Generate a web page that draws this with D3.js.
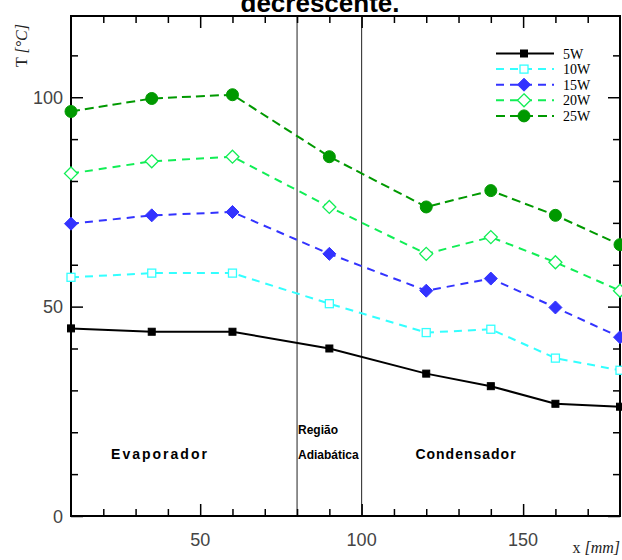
<!DOCTYPE html>
<html>
<head>
<meta charset="utf-8">
<script src="https://cdn.jsdelivr.net/npm/d3@7"></script>
<style>
  body { margin: 0; background: #fff; }
  svg { display: block; }
</style>
</head>
<body>
<div id="chart"></div>
<script>
// positions along the heat pipe [mm]
var xPos = [10, 35, 60, 90, 120, 140, 160, 180];

// temperatures [°C] for each power level
var t5W  = [44.8, 44.0, 44.0, 40.0, 34.0, 31.0, 26.8, 26.1];
var t10W = [57.0, 58.0, 58.0, 50.7, 43.8, 44.6, 37.7, 34.8];
var t15W = [69.8, 71.8, 72.6, 62.6, 53.8, 56.7, 49.8, 42.7];
var t20W = [81.8, 84.7, 85.8, 73.8, 62.6, 66.6, 60.6, 53.8];
var t25W = [96.6, 99.7, 100.6, 85.8, 73.8, 77.7, 71.8, 64.8];

var seriesNames = ["5W", "10W", "15W", "20W", "25W"];
var xTickLabels = [50, 100, 150];
var yTickLabels = [0, 50, 100];
var regionBounds = [80, 100];

var series = [
    { name: "5W",  values: t5W,  color: "#000000", dash: null,  marker: "square",  filled: true },
    { name: "10W", values: t10W, color: "#33ffff", dash: "8,6", marker: "square",  filled: false },
    { name: "15W", values: t15W, color: "#3333ff", dash: "8,6", marker: "diamond", filled: true },
    { name: "20W", values: t20W, color: "#11ee55", dash: "8,6", marker: "diamond", filled: false },
    { name: "25W", values: t25W, color: "#009900", dash: "9,5", marker: "circle",  filled: true }
];

const width = 622, height = 560;
const pLeft = 71, pRight = 620, pTop = 16, pBottom = 516;

let svg = d3.select('#chart').append('svg')
    .attr('width', width)
    .attr('height', height);

let x = d3.scaleLinear().domain([10, 180]).range([pLeft, pRight]);
let y = d3.scaleLinear().domain([0, 119.4]).range([pBottom, pTop]);

// title (cut at the top of the picture)
svg.append('text')
    .attr('x', 320)
    .attr('y', 11.5)
    .attr('text-anchor', 'middle')
    .style('font-family', 'Liberation Sans, Arial, sans-serif')
    .style('font-weight', 'bold')
    .style('font-size', '26px')
    .text('decrescente.');

// region separators
svg.selectAll('.region-line')
    .data(regionBounds)
    .enter().append('line')
    .attr('class', 'region-line')
    .attr('x1', d => x(d)).attr('x2', d => x(d))
    .attr('y1', pTop).attr('y2', pBottom)
    .style('stroke', '#222')
    .style('stroke-width', 1);

// ticks on all four sides, inward
function ticks(axisGen, transform, vals, size) {
    svg.append('g')
        .attr('transform', transform)
        .call(axisGen.tickValues(vals).tickSize(size).tickFormat(''))
        .call(g => g.select('.domain').remove())
        .call(g => g.selectAll('line').style('stroke', '#000').style('stroke-width', 1.5));
}
var xMinor = d3.range(20, 180, 10).filter(v => v % 50 !== 0);
var yMinor = d3.range(10, 120, 10).filter(v => v % 50 !== 0);
ticks(d3.axisTop(x), `translate(0,${pBottom})`, xMinor, 7);
ticks(d3.axisTop(x), `translate(0,${pBottom})`, xTickLabels, 12);
ticks(d3.axisBottom(x), `translate(0,${pTop})`, xMinor, 7);
ticks(d3.axisBottom(x), `translate(0,${pTop})`, xTickLabels, 12);
ticks(d3.axisRight(y), `translate(${pLeft},0)`, yMinor, 7);
ticks(d3.axisRight(y), `translate(${pLeft},0)`, yTickLabels, 12);
ticks(d3.axisLeft(y), `translate(${pRight},0)`, yMinor, 7);
ticks(d3.axisLeft(y), `translate(${pRight},0)`, yTickLabels, 12);

// tick labels
svg.selectAll('.xlab')
    .data(xTickLabels)
    .enter().append('text')
    .attr('x', d => x(d))
    .attr('y', 546)
    .attr('text-anchor', 'middle')
    .style('font-family', 'Liberation Sans, Arial, sans-serif')
    .style('font-size', '18px')
    .style('fill', '#444')
    .text(d => d);

svg.selectAll('.ylab')
    .data(yTickLabels)
    .enter().append('text')
    .attr('x', 63)
    .attr('y', d => y(d) + 6.5)
    .attr('text-anchor', 'end')
    .style('font-family', 'Liberation Sans, Arial, sans-serif')
    .style('font-size', '18px')
    .style('fill', '#444')
    .text(d => d);

// frame
svg.append('rect')
    .attr('x', pLeft).attr('y', pTop)
    .attr('width', pRight - pLeft).attr('height', pBottom - pTop)
    .style('fill', 'none')
    .style('stroke', '#000')
    .style('stroke-width', 2);

// axis titles
let ylab = svg.append('text')
    .attr('transform', 'translate(27,67) rotate(-90)')
    .style('font-family', 'Liberation Serif, Times New Roman, serif')
    .style('font-size', '16px')
    .style('fill', '#222');
ylab.append('tspan').text('T ');
ylab.append('tspan').style('font-style', 'italic').text('[°C]');

let xlab = svg.append('text')
    .attr('x', 620).attr('y', 553)
    .attr('text-anchor', 'end')
    .style('font-family', 'Liberation Serif, Times New Roman, serif')
    .style('font-size', '16px')
    .style('fill', '#222');
xlab.append('tspan').text('x ');
xlab.append('tspan').style('font-style', 'italic').text('[mm]');

// region names
var regionText = [
    { t: 'Evaporador', x: 160, y: 459, size: 14, ls: 2 },
    { t: 'Condensador', x: 466, y: 459, size: 14, ls: 1 },
    { t: 'Região', x: 298, y: 434, size: 12, ls: 0, anchor: 'start' },
    { t: 'Adiabática', x: 298, y: 459, size: 12, ls: 0, anchor: 'start' }
];
svg.selectAll('.region')
    .data(regionText)
    .enter().append('text')
    .attr('x', d => d.x).attr('y', d => d.y)
    .attr('text-anchor', d => d.anchor || 'middle')
    .style('font-family', 'Liberation Sans, Arial, sans-serif')
    .style('font-weight', 'bold')
    .style('font-size', d => d.size + 'px')
    .style('letter-spacing', d => d.ls + 'px')
    .text(d => d.t);

// markers
function drawMarker(g, type, cx, cy, color, filled) {
    let m;
    if (type === 'square') {
        let s = filled ? 7 : 8;
        m = g.append('rect').attr('x', cx - s / 2).attr('y', cy - s / 2).attr('width', s).attr('height', s);
    } else if (type === 'diamond') {
        let r = 6.5;
        m = g.append('path').attr('d', `M${cx},${cy - r}L${cx + r},${cy}L${cx},${cy + r}L${cx - r},${cy}Z`);
    } else {
        m = g.append('circle').attr('cx', cx).attr('cy', cy).attr('r', 6);
    }
    m.style('fill', filled ? color : '#fff')
        .style('stroke', color)
        .style('stroke-width', filled ? 1 : 1.3);
}

let line = d3.line().x(d => x(d[0])).y(d => y(d[1]));

series.forEach(function (s) {
    let pts = xPos.map((v, i) => [v, s.values[i]]);
    let g = svg.append('g');
    g.append('path')
        .attr('d', line(pts))
        .style('fill', 'none')
        .style('stroke', s.color)
        .style('stroke-width', 2)
        .style('stroke-dasharray', s.dash);
    pts.forEach(p => drawMarker(g, s.marker, x(p[0]), y(p[1]), s.color, s.filled));
});

// legend
let leg = svg.append('g');
series.forEach(function (s, i) {
    let ly = 53.5 + i * 15.6;
    leg.append('line')
        .attr('x1', 496).attr('x2', 554)
        .attr('y1', ly).attr('y2', ly)
        .style('stroke', s.color)
        .style('stroke-width', 2)
        .style('stroke-dasharray', s.dash);
    drawMarker(leg, s.marker, 524, ly, s.color, s.filled);
    leg.append('text')
        .attr('x', 563).attr('y', ly + 5)
        .style('font-family', 'Liberation Serif, Times New Roman, serif')
        .style('font-size', '14px')
        .text(seriesNames[i]);
});
</script>
</body>
</html>
